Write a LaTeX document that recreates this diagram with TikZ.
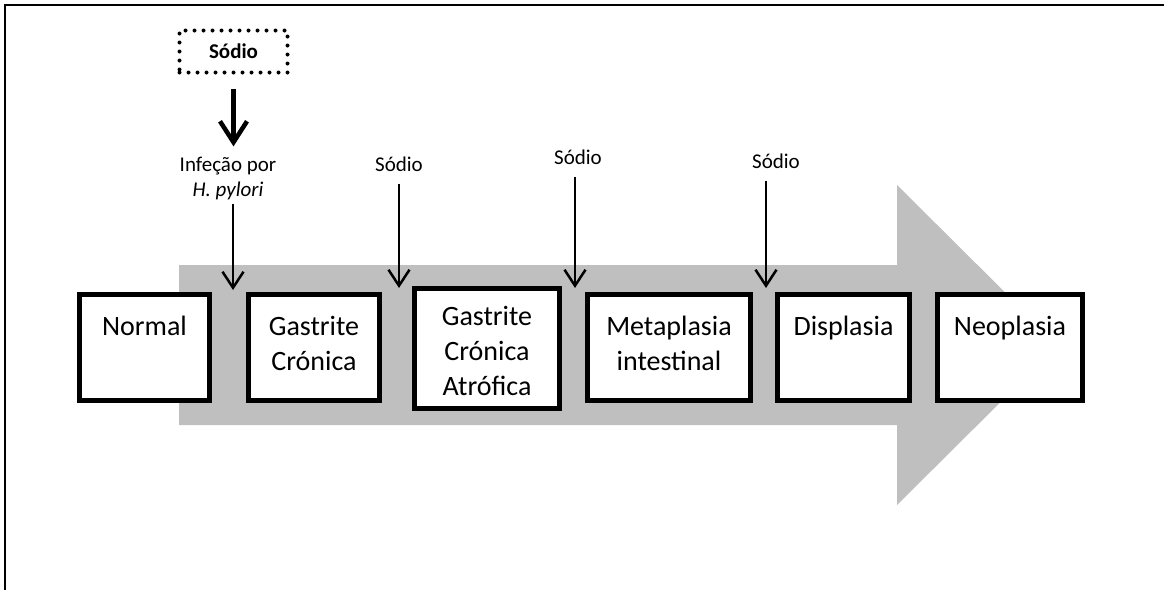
\documentclass[tikz,border=0pt]{standalone}
\usepackage{fontspec}
\setmainfont{Carlito}
\usetikzlibrary{positioning, arrows.meta}
\definecolor{bandGray}{RGB}{191,191,191}
\tikzset{
  every node/.style={font=\fontsize{21}{25}\selectfont},
  stage/.style={draw, line width=5pt, fill=white, inner sep=0pt, minimum height=106pt},
  stagetxt/.style={font=\fontsize{28}{35}\selectfont, align=center, inner sep=0pt},
  lbl/.style={align=center, inner sep=4pt},
  thinarr/.style={-{Straight Barb[length=16pt, width=21pt]}, line width=2.5pt},
  bigarr/.style={-{Straight Barb[length=21pt, width=27pt]}, line width=4.5pt},
  dotbox/.style={draw, line width=4pt, dash pattern=on 0pt off 9pt, line cap=round,
                 minimum width=108pt, minimum height=42pt, font=\bfseries\fontsize{21}{25}\selectfont},
}
\begin{document}
\begin{tikzpicture}[x=1pt, y=-1pt]
  \useasboundingbox (0,0) rectangle (1164,590);
  % frame, only its top and left edges are in view
  \draw[line width=2.5pt] (5,590) -- (5,5) -- (1164,5);
  % the grey progression arrow
  \fill[bandGray] (179,265) -- (897,265) -- (897,185) -- (1058,345) -- (897,505)
    -- (897,425) -- (179,425) -- cycle;
  % stages
  \node[stage, minimum width=130pt] (normal) at (144.5,347.5) {};
  \node[stagetxt, below=24pt of normal.north] (normalT) {Normal};
  \node[stage, minimum width=131pt] (gc) at (314,347.5) {};
  \node[stagetxt, below=24pt of gc.north] (gcT) {Gastrite\\Crónica};
  \node[stage, minimum width=145pt, minimum height=120pt] (gca) at (487,348.5) {};
  \node[stagetxt, below=20pt of gca.north] (gcaT) {Gastrite\\Crónica\\Atrófica};
  \node[stage, minimum width=163pt] (mi) at (669,347.5) {};
  \node[stagetxt, below=24pt of mi.north] (miT) {Metaplasia\\intestinal};
  \node[stage, minimum width=132pt] (disp) at (843.5,347.5) {};
  \node[stagetxt, below=24pt of disp.north] (dispT) {Displasia};
  \node[stage, minimum width=145pt] (neo) at (1010,347.5) {};
  \node[stagetxt, below=24pt of neo.north] (neoT) {Neoplasia};
  % where the factors act
  \coordinate (t1) at (233,290);
  \coordinate (t2) at (399,288);
  \coordinate (t3) at (575,288);
  \coordinate (t4) at (766,288);
  % sodium on top of the infection
  \node[dotbox] (sodTop) at (233.5,51.5) {Sódio};
  \node[lbl] (inf) at (228,178) {Infeção por\\\textit{H. pylori}};
  \draw[bigarr, shorten <=14pt, shorten >=6pt] (sodTop) -- (sodTop |- inf.north);
  \draw[thinarr] (inf.south -| t1) -- (t1);
  % sodium at the later steps
  \node[lbl] (sod2) at (399,164) {Sódio};
  \node[lbl] (sod3) at (578,157) {Sódio};
  \node[lbl] (sod4) at (776,161) {Sódio};
  \draw[thinarr, shorten <=8pt] (sod2.south -| t2) -- (t2);
  \draw[thinarr, shorten <=8pt] (sod3.south -| t3) -- (t3);
  \draw[thinarr, shorten <=8pt] (sod4.south -| t4) -- (t4);
\end{tikzpicture}
\end{document}
